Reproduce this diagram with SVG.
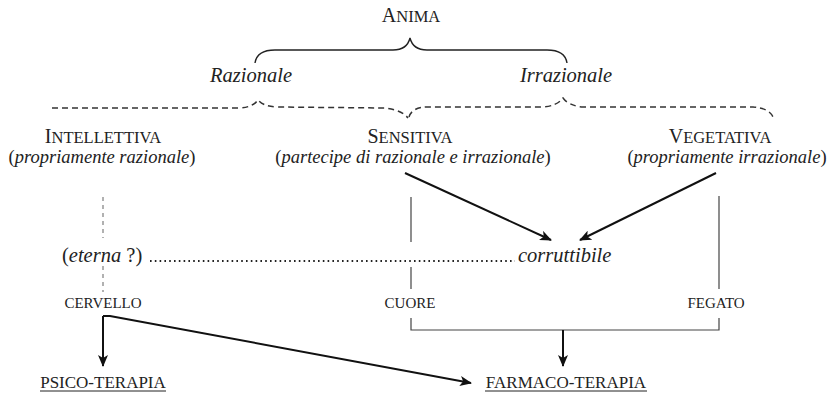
<svg xmlns="http://www.w3.org/2000/svg" width="827" height="397" viewBox="0 0 827 397">
<style>
text{font-family:"Liberation Serif","Times New Roman",serif;fill:#222}
.it{font-style:italic}
.cap{font-size:20px}
.sc{font-size:16.5px}
.org{font-size:15px}
.big{font-size:17px}
.ln{fill:none;stroke:#222;stroke-width:1.4}
.thin{fill:none;stroke:#444;stroke-width:1.2}
.dash{fill:none;stroke:#333;stroke-width:1.5;stroke-dasharray:6 4}
.arr{fill:none;stroke:#111;stroke-width:2;marker-end:url(#ah)}
</style>
<defs>
<marker id="ah" viewBox="0 0 12 10" refX="11" refY="5" markerWidth="12" markerHeight="10" markerUnits="userSpaceOnUse" orient="auto">
<path d="M0,0 L12,5 L0,10 L3,5 z" fill="#111"/>
</marker>
</defs>
<g id="anima"><text x="411" y="22" text-anchor="middle"><tspan class="cap">A</tspan><tspan class="sc">NIMA</tspan></text></g>
<g id="razionale"><text x="251" y="82" text-anchor="middle" class="it" font-size="20.5">Razionale</text></g>
<g id="irrazionale"><text x="566" y="82" text-anchor="middle" class="it" font-size="20.5">Irrazionale</text></g>
<g id="intellettiva"><text x="103" y="143" text-anchor="middle"><tspan class="cap">I</tspan><tspan class="sc">NTELLETTIVA</tspan></text>
<text x="102" y="163" text-anchor="middle" font-size="18.5">(<tspan class="it">propriamente razionale</tspan>)</text></g>
<g id="sensitiva"><text x="410" y="143" text-anchor="middle"><tspan class="cap">S</tspan><tspan class="sc">ENSITIVA</tspan></text>
<text x="413" y="163" text-anchor="middle" font-size="18.5">(<tspan class="it">partecipe di razionale e irrazionale</tspan>)</text></g>
<g id="vegetativa"><text x="720" y="143" text-anchor="middle"><tspan class="cap">V</tspan><tspan class="sc">EGETATIVA</tspan></text>
<text x="727" y="163" text-anchor="middle" font-size="18.5">(<tspan class="it">propriamente irrazionale</tspan>)</text></g>
<g id="eterna"><text x="62" y="262" font-size="20.5">(<tspan class="it">eterna</tspan> ?)</text></g>
<g id="corruttibile"><text x="518" y="262" class="it" font-size="20.5">corruttibile</text></g>
<g id="cervello"><text x="103" y="308" text-anchor="middle" class="org">CERVELLO</text></g>
<g id="cuore"><text x="410" y="308" text-anchor="middle" class="org">CUORE</text></g>
<g id="fegato"><text x="716" y="308" text-anchor="middle" class="org">FEGATO</text></g>
<g id="psico"><text x="103" y="388" text-anchor="middle" class="big">PSICO-TERAPIA</text><line x1="40" y1="391" x2="166" y2="391" stroke="#222" stroke-width="1"/></g>
<g id="farmaco"><text x="566" y="388" text-anchor="middle" class="big">FARMACO-TERAPIA</text><line x1="485" y1="391" x2="647" y2="391" stroke="#222" stroke-width="1"/></g>
<g id="connectors">
<path class="ln" d="M255,63 Q257,50 275,50 L393,50 Q407,50 410,38 Q413,50 427,50 L547,50 Q565,50 567,63"/>
<path class="dash" d="M52,108 L238,108 Q252,108 258,100 Q264,107 278,107 L385,108 Q402,110 408,118"/>
<path class="dash" d="M409,117 Q412,107 428,107 L543,107 Q557,106 563,98 Q569,106 583,107 L753,107 Q769,108 773,117"/>
<line x1="103" y1="197" x2="103" y2="238" stroke="#888" stroke-width="1.3" stroke-dasharray="4 4"/>
<line x1="103" y1="266" x2="103" y2="292" stroke="#888" stroke-width="1.3" stroke-dasharray="4 4"/>
<line x1="150" y1="261" x2="515" y2="261" stroke="#222" stroke-width="2" stroke-dasharray="1.6 3.2"/>
<line class="thin" x1="411" y1="197" x2="411" y2="242"/>
<line class="thin" x1="411" y1="267" x2="411" y2="289"/>
<line class="thin" x1="719" y1="196" x2="719" y2="289"/>
<path class="thin" d="M411,318 V330 H719 V318"/>
<path class="arr" d="M405,173 L551,240"/>
<path class="arr" d="M716,173 L580,240"/>
<path class="arr" d="M563,330 L563,366"/>
<path class="arr" d="M103,316 L103,366"/>
<path class="arr" d="M103,316 L110,316 L471,383"/>
</g>
</svg>
